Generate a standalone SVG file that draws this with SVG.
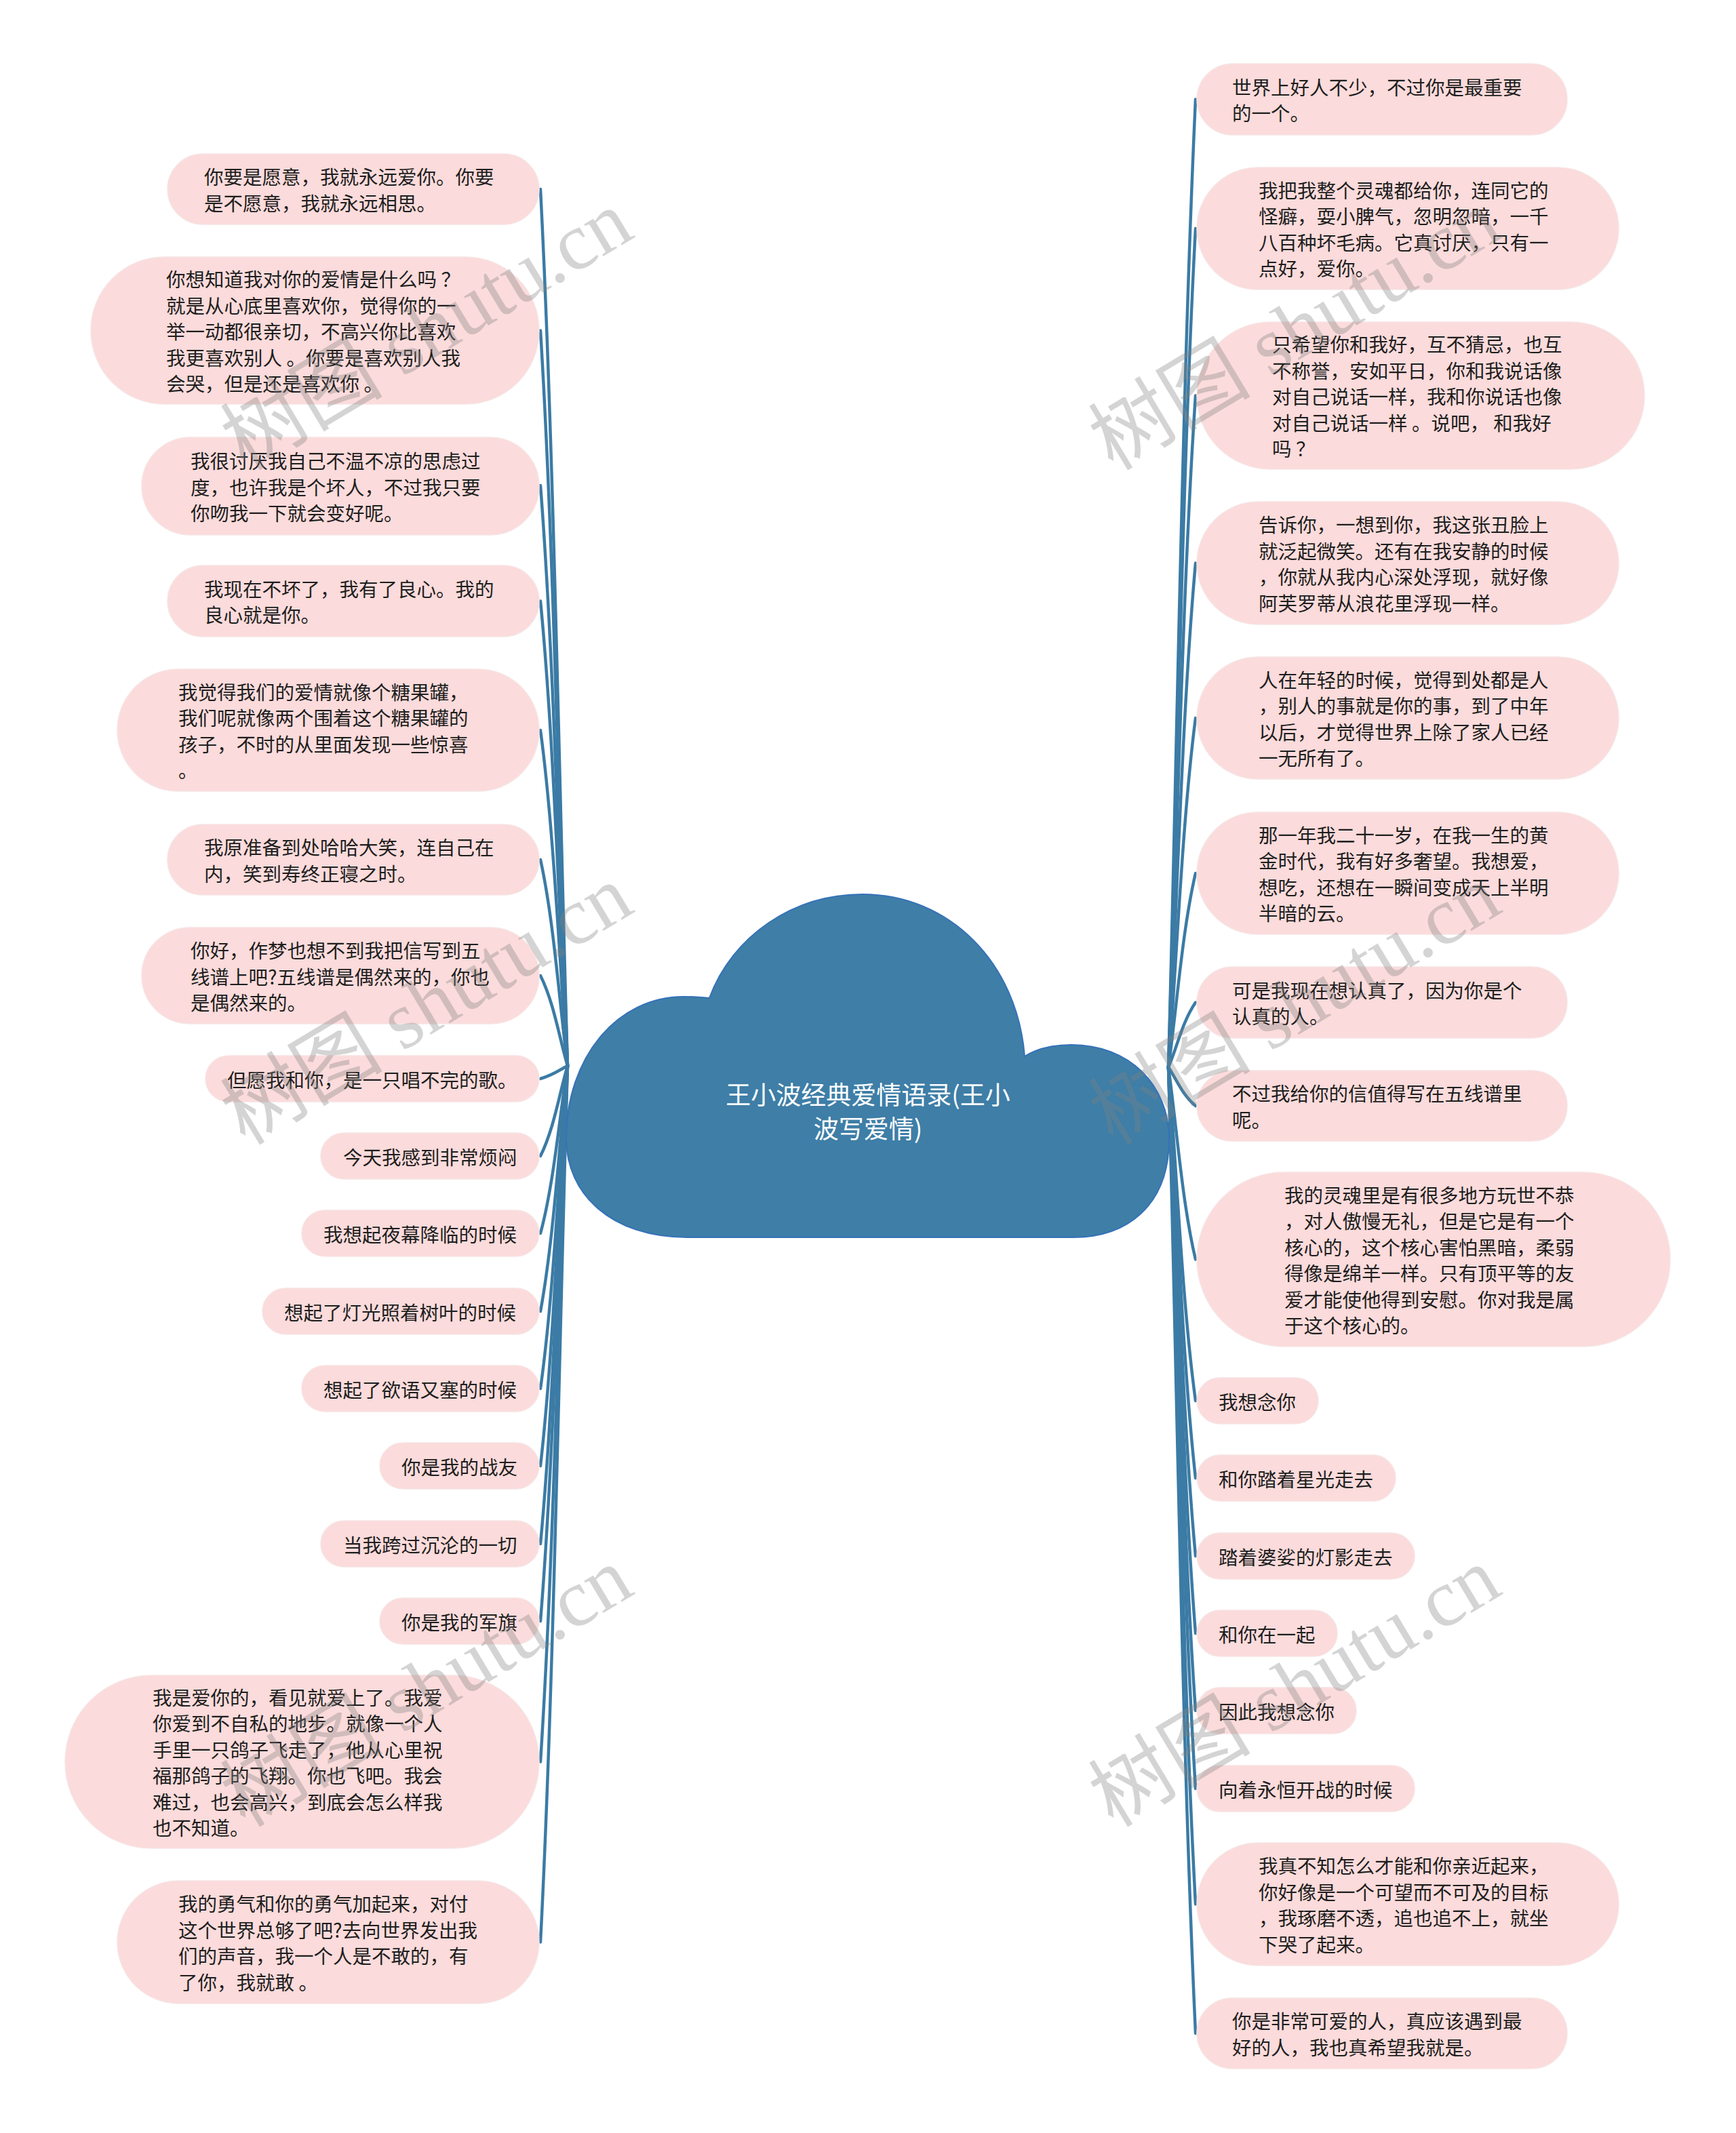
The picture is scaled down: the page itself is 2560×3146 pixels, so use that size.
<svg xmlns="http://www.w3.org/2000/svg" width="2560" height="3146" viewBox="0 0 2560 3146">
<style>
.bg{fill:#ffffff}
.node rect{fill:#fbdbdb;stroke:#f7e4e4;stroke-width:1.5}
.node text{font-family:"Noto Sans CJK SC","Noto Sans",sans-serif;font-size:28.5px;fill:#1e1e1e;dominant-baseline:central}
.conn path{fill:none;stroke:#3b7ba5;stroke-width:4.5;stroke-linecap:round}
.cloud{fill:#3e7ea7;stroke:#3672b8;stroke-width:2}
.title{font-family:"Noto Sans CJK SC","Noto Sans",sans-serif;font-size:37px;fill:#ffffff;text-anchor:middle;dominant-baseline:central}
.wm{font-family:"Liberation Serif","Noto Sans CJK SC",serif;font-size:120px;fill:#808080;fill-opacity:0.34;text-anchor:middle}
</style>
<rect class="bg" x="0" y="0" width="2560" height="3146"/>
<g id="connectors" class="conn">
<path d="M837,1572 C825,1184 817,667 797,279"/>
<path d="M837,1572 C825,1247 817,812 797,487.5"/>
<path d="M837,1572 C825,1315 817,973 797,716"/>
<path d="M837,1572 C825,1366 817,1092 797,886.5"/>
<path d="M837,1572 C825,1423 817,1225 797,1077"/>
<path d="M837,1572 C825,1481 817,1359 797,1268"/>
<path d="M837,1572 C825,1532 817,1479 797,1439"/>
<path d="M837,1572 C825,1578 817,1585 797,1591"/>
<path d="M837,1572 C825,1612 817,1665 797,1705"/>
<path d="M837,1572 C825,1646 817,1745 797,1819"/>
<path d="M837,1572 C825,1681 817,1825 797,1934"/>
<path d="M837,1572 C825,1715 817,1905 797,2048"/>
<path d="M837,1572 C825,1749 817,1985 797,2162"/>
<path d="M837,1572 C825,1783 817,2065 797,2277"/>
<path d="M837,1572 C825,1818 817,2145 797,2391"/>
<path d="M837,1572 C825,1880 817,2290 797,2598.5"/>
<path d="M837,1572 C825,1960 817,2477 797,2864.5"/>
<path d="M1723,1574 C1735,1147 1743,575 1763,146.5"/>
<path d="M1723,1574 C1735,1204 1743,709 1763,337"/>
<path d="M1723,1574 C1735,1278 1743,881 1763,583.5"/>
<path d="M1723,1574 C1735,1352 1743,1054 1763,830.5"/>
<path d="M1723,1574 C1735,1421 1743,1214 1763,1059"/>
<path d="M1723,1574 C1735,1490 1743,1374 1763,1288"/>
<path d="M1723,1574 C1735,1547 1743,1508 1763,1478.5"/>
<path d="M1723,1574 C1735,1592 1743,1614 1763,1631"/>
<path d="M1723,1574 C1735,1660 1743,1773 1763,1857.5"/>
<path d="M1723,1574 C1735,1723 1743,1919 1763,2066"/>
<path d="M1723,1574 C1735,1757 1743,1999 1763,2180"/>
<path d="M1723,1574 C1735,1792 1743,2079 1763,2295"/>
<path d="M1723,1574 C1735,1826 1743,2159 1763,2409"/>
<path d="M1723,1574 C1735,1860 1743,2239 1763,2523"/>
<path d="M1723,1574 C1735,1895 1743,2319 1763,2638"/>
<path d="M1723,1574 C1735,1946 1743,2438 1763,2808.5"/>
<path d="M1723,1574 C1735,2003 1743,2572 1763,2999"/>
</g>
<g id="root">
<path class="cloud" d="M1046,1472 C1080,1380 1170,1319 1272,1319 C1400,1319 1500,1420 1511,1558 C1530,1546 1555,1541 1580,1541 C1665,1541 1724,1600 1724,1680 C1724,1780 1660,1825 1583,1825 L1014,1825 C900,1825 835,1760 835,1679 C835,1560 910,1470 1008,1470 C1022,1470 1035,1471 1046,1472 Z"/>
<text class="title" x="1280" y="1613">王小波经典爱情语录(王小</text>
<text class="title" x="1280" y="1663">波写爱情)</text>
</g>
<g id="L1" class="node"><rect x="247" y="227" width="548" height="104" rx="52"/><text x="301" y="259.75">你要是愿意，我就永远爱你。你要</text><text x="301" y="298.25">是不愿意，我就永远相思。</text></g>
<g id="L2" class="node"><rect x="134" y="379" width="661" height="217" rx="108.5"/><text x="245" y="410.5">你想知道我对你的爱情是什么吗 ？</text><text x="245" y="449">就是从心底里喜欢你，觉得你的一</text><text x="245" y="487.5">举一动都很亲切，不高兴你比喜欢</text><text x="245" y="526">我更喜欢别人 。你要是喜欢别人我</text><text x="245" y="564.5">会哭，但是还是喜欢你 。</text></g>
<g id="L3" class="node"><rect x="209" y="645" width="586" height="144" rx="72"/><text x="281" y="678.5">我很讨厌我自己不温不凉的思虑过</text><text x="281" y="717">度，也许我是个坏人，不过我只要</text><text x="281" y="755.5">你吻我一下就会变好呢。</text></g>
<g id="L4" class="node"><rect x="247" y="834" width="548" height="105" rx="52.5"/><text x="301" y="867.25">我现在不坏了，我有了良心。我的</text><text x="301" y="905.75">良心就是你。</text></g>
<g id="L5" class="node"><rect x="173" y="987" width="622" height="180" rx="90"/><text x="263" y="1019.25">我觉得我们的爱情就像个糖果罐，</text><text x="263" y="1057.75">我们呢就像两个围着这个糖果罐的</text><text x="263" y="1096.25">孩子，不时的从里面发现一些惊喜</text><text x="263" y="1134.75">。</text></g>
<g id="L6" class="node"><rect x="247" y="1216" width="548" height="104" rx="52"/><text x="301" y="1248.75">我原准备到处哈哈大笑，连自己在</text><text x="301" y="1287.25">内，笑到寿终正寝之时。</text></g>
<g id="L7" class="node"><rect x="209" y="1368" width="586" height="142" rx="71"/><text x="281" y="1400.5">你好，作梦也想不到我把信写到五</text><text x="281" y="1439">线谱上吧?五线谱是偶然来的，你也</text><text x="281" y="1477.5">是偶然来的。</text></g>
<g id="L8" class="node"><rect x="303" y="1557" width="492" height="68" rx="34"/><text x="335" y="1591">但愿我和你，是一只唱不完的歌。</text></g>
<g id="L9" class="node"><rect x="473" y="1671" width="322" height="68" rx="34"/><text x="506" y="1705">今天我感到非常烦闷</text></g>
<g id="L10" class="node"><rect x="445" y="1785" width="350" height="68" rx="34"/><text x="477" y="1819">我想起夜幕降临的时候</text></g>
<g id="L11" class="node"><rect x="387" y="1900" width="408" height="68" rx="34"/><text x="419" y="1934">想起了灯光照着树叶的时候</text></g>
<g id="L12" class="node"><rect x="445" y="2014" width="350" height="68" rx="34"/><text x="477" y="2048">想起了欲语又塞的时候</text></g>
<g id="L13" class="node"><rect x="560" y="2128" width="235" height="68" rx="34"/><text x="592" y="2162">你是我的战友</text></g>
<g id="L14" class="node"><rect x="473" y="2243" width="322" height="68" rx="34"/><text x="506" y="2277">当我跨过沉沦的一切</text></g>
<g id="L15" class="node"><rect x="560" y="2357" width="235" height="68" rx="34"/><text x="592" y="2391">你是我的军旗</text></g>
<g id="L16" class="node"><rect x="96" y="2471" width="699" height="255" rx="127.5"/><text x="225" y="2502.25">我是爱你的，看见就爱上了。我爱</text><text x="225" y="2540.75">你爱到不自私的地步。就像一个人</text><text x="225" y="2579.25">手里一只鸽子飞走了，他从心里祝</text><text x="225" y="2617.75">福那鸽子的飞翔。你也飞吧。我会</text><text x="225" y="2656.25">难过，也会高兴，到底会怎么样我</text><text x="225" y="2694.75">也不知道。</text></g>
<g id="L17" class="node"><rect x="173" y="2774" width="622" height="181" rx="90.5"/><text x="263" y="2806.75">我的勇气和你的勇气加起来，对付</text><text x="263" y="2845.25">这个世界总够了吧?去向世界发出我</text><text x="263" y="2883.75">们的声音，我一个人是不敢的，有</text><text x="263" y="2922.25">了你，我就敢 。</text></g>
<g id="R1" class="node"><rect x="1765" y="94" width="546" height="105" rx="52.5"/><text x="1817" y="127.25">世界上好人不少，不过你是最重要</text><text x="1817" y="165.75">的一个。</text></g>
<g id="R2" class="node"><rect x="1765" y="247" width="622" height="180" rx="90"/><text x="1856" y="279.25">我把我整个灵魂都给你，连同它的</text><text x="1856" y="317.75">怪癖，耍小脾气，忽明忽暗，一千</text><text x="1856" y="356.25">八百种坏毛病。它真讨厌，只有一</text><text x="1856" y="394.75">点好，爱你。</text></g>
<g id="R3" class="node"><rect x="1765" y="475" width="660" height="217" rx="108.5"/><text x="1876" y="506.5">只希望你和我好，互不猜忌，也互</text><text x="1876" y="545">不称誉，安如平日，你和我说话像</text><text x="1876" y="583.5">对自己说话一样，我和你说话也像</text><text x="1876" y="622">对自己说话一样 。说吧， 和我好</text><text x="1876" y="660.5">吗 ？</text></g>
<g id="R4" class="node"><rect x="1765" y="740" width="622" height="181" rx="90.5"/><text x="1856" y="772.75">告诉你，一想到你，我这张丑脸上</text><text x="1856" y="811.25">就泛起微笑。还有在我安静的时候</text><text x="1856" y="849.75">，你就从我内心深处浮现，就好像</text><text x="1856" y="888.25">阿芙罗蒂从浪花里浮现一样。</text></g>
<g id="R5" class="node"><rect x="1765" y="969" width="622" height="180" rx="90"/><text x="1856" y="1001.25">人在年轻的时候，觉得到处都是人</text><text x="1856" y="1039.75">，别人的事就是你的事，到了中年</text><text x="1856" y="1078.25">以后，才觉得世界上除了家人已经</text><text x="1856" y="1116.75">一无所有了。</text></g>
<g id="R6" class="node"><rect x="1765" y="1198" width="622" height="180" rx="90"/><text x="1856" y="1230.25">那一年我二十一岁，在我一生的黄</text><text x="1856" y="1268.75">金时代，我有好多奢望。我想爱，</text><text x="1856" y="1307.25">想吃，还想在一瞬间变成天上半明</text><text x="1856" y="1345.75">半暗的云。</text></g>
<g id="R7" class="node"><rect x="1765" y="1426" width="546" height="105" rx="52.5"/><text x="1817" y="1459.25">可是我现在想认真了，因为你是个</text><text x="1817" y="1497.75">认真的人。</text></g>
<g id="R8" class="node"><rect x="1765" y="1579" width="546" height="104" rx="52"/><text x="1817" y="1611.75">不过我给你的信值得写在五线谱里</text><text x="1817" y="1650.25">呢。</text></g>
<g id="R9" class="node"><rect x="1765" y="1729" width="698" height="257" rx="128.5"/><text x="1894" y="1761.25">我的灵魂里是有很多地方玩世不恭</text><text x="1894" y="1799.75">，对人傲慢无礼，但是它是有一个</text><text x="1894" y="1838.25">核心的，这个核心害怕黑暗，柔弱</text><text x="1894" y="1876.75">得像是绵羊一样。只有顶平等的友</text><text x="1894" y="1915.25">爱才能使他得到安慰。你对我是属</text><text x="1894" y="1953.75">于这个核心的。</text></g>
<g id="R10" class="node"><rect x="1765" y="2032" width="179" height="68" rx="34"/><text x="1797" y="2066">我想念你</text></g>
<g id="R11" class="node"><rect x="1765" y="2146" width="293" height="68" rx="34"/><text x="1797" y="2180">和你踏着星光走去</text></g>
<g id="R12" class="node"><rect x="1765" y="2261" width="321" height="68" rx="34"/><text x="1797" y="2295">踏着婆娑的灯影走去</text></g>
<g id="R13" class="node"><rect x="1765" y="2375" width="207" height="68" rx="34"/><text x="1797" y="2409">和你在一起</text></g>
<g id="R14" class="node"><rect x="1765" y="2489" width="235" height="68" rx="34"/><text x="1797" y="2523">因此我想念你</text></g>
<g id="R15" class="node"><rect x="1765" y="2604" width="321" height="68" rx="34"/><text x="1797" y="2638">向着永恒开战的时候</text></g>
<g id="R16" class="node"><rect x="1765" y="2718" width="622" height="181" rx="90.5"/><text x="1856" y="2750.75">我真不知怎么才能和你亲近起来，</text><text x="1856" y="2789.25">你好像是一个可望而不可及的目标</text><text x="1856" y="2827.75">，我琢磨不透，追也追不上，就坐</text><text x="1856" y="2866.25">下哭了起来。</text></g>
<g id="R17" class="node"><rect x="1765" y="2947" width="546" height="104" rx="52"/><text x="1817" y="2979.75">你是非常可爱的人，真应该遇到最</text><text x="1817" y="3018.25">好的人，我也真希望我就是。</text></g>
<g id="watermark">
<text class="wm" transform="rotate(-31 650 522)" x="650" y="522">树图 shutu.cn</text>
<text class="wm" transform="rotate(-31 650 1517)" x="650" y="1517">树图 shutu.cn</text>
<text class="wm" transform="rotate(-31 650 2523)" x="650" y="2523">树图 shutu.cn</text>
<text class="wm" transform="rotate(-31 1930 522)" x="1930" y="522">树图 shutu.cn</text>
<text class="wm" transform="rotate(-31 1930 1517)" x="1930" y="1517">树图 shutu.cn</text>
<text class="wm" transform="rotate(-31 1930 2523)" x="1930" y="2523">树图 shutu.cn</text>
</g>
</svg>
